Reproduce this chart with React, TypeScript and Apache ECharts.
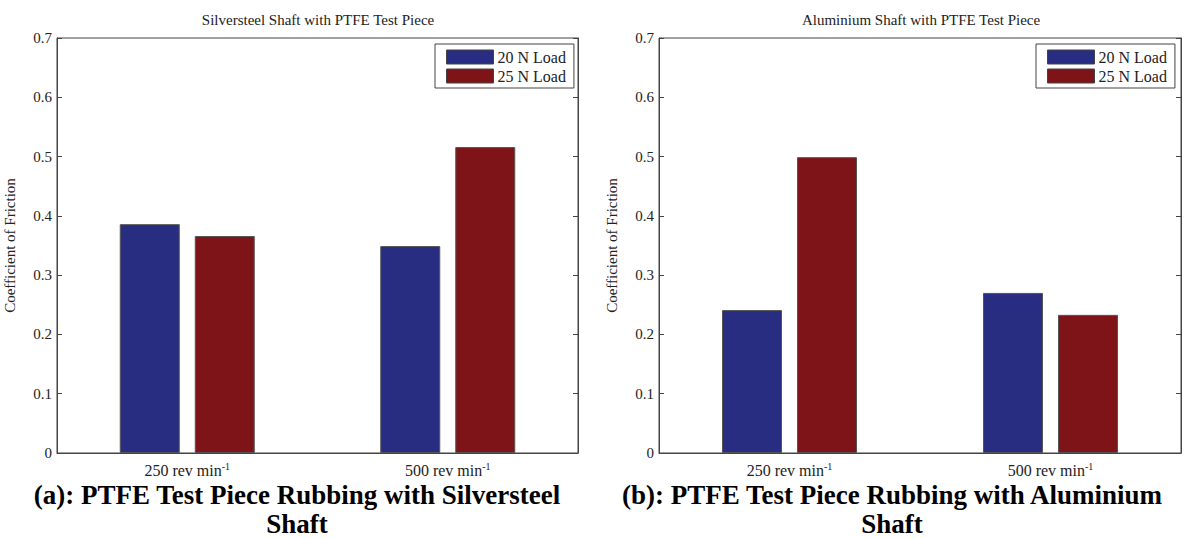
import React, { useEffect, useRef } from "react";
import * as echarts from "echarts";

const categories = ["250 rev min", "500 rev min"];
const seriesNames = ["20 N Load", "25 N Load"];
const silver20 = [0.386, 0.349];
const silver25 = [0.366, 0.516];
const alu20 = [0.241, 0.270];
const alu25 = [0.499, 0.233];
const chartTitles = ["Silversteel Shaft with PTFE Test Piece", "Aluminium Shaft with PTFE Test Piece"];
const captions = [
  ["(a): PTFE Test Piece Rubbing with Silversteel", "Shaft"],
  ["(b): PTFE Test Piece Rubbing with Aluminium", "Shaft"],
];
const yAxisName = "Coefficient of Friction";

const BLUE = "#282d82";
const RED = "#7e1418";
const FONT = "Liberation Serif";

export default function App() {
  const ref = useRef<HTMLDivElement>(null);
  useEffect(() => {
    const chart = echarts.init(ref.current!, null, { renderer: "svg" });
    const grids = [
      { left: 57, top: 38, width: 521, height: 415 },
      { left: 659, top: 38, width: 522, height: 415 },
    ];
    const xAxes: any[] = [];
    const yAxes: any[] = [];
    grids.forEach((g, i) => {
      xAxes.push({
        type: "category",
        gridIndex: i,
        data: categories,
        axisLine: { lineStyle: { color: "#444", width: 1 } },
        axisTick: { show: false },
        axisLabel: {
          margin: 8,
          formatter: (v: string) => `{b|${v}}{s|-1}`,
          rich: {
            b: { fontFamily: FONT, fontSize: 16, color: "#222" },
            s: { fontFamily: FONT, fontSize: 10, color: "#222", padding: [0, 0, 9, 0] },
          },
        },
      });
      yAxes.push({
        type: "value",
        gridIndex: i,
        min: 0,
        max: 0.7,
        interval: 0.1,
        name: yAxisName,
        nameLocation: "middle",
        nameGap: 40,
        nameTextStyle: { fontFamily: FONT, fontSize: 15, color: "#222" },
        axisLine: { show: true, lineStyle: { color: "#444", width: 1 } },
        axisTick: { show: true, inside: true, length: 5, lineStyle: { color: "#444" } },
        splitLine: { show: false },
        axisLabel: {
          margin: 5,
          fontFamily: FONT,
          fontSize: 15,
          color: "#222",
          formatter: (v: number) => (v === 0 ? "0" : v.toFixed(1)),
        },
      });
      yAxes.push({
        type: "value",
        gridIndex: i,
        position: "right",
        min: 0,
        max: 0.7,
        interval: 0.1,
        axisLine: { show: true, lineStyle: { color: "#444", width: 1 } },
        axisTick: { show: true, inside: true, length: 5, lineStyle: { color: "#444" } },
        splitLine: { show: false },
        axisLabel: { show: false },
      });
    });

    const mkSeries = (name: string, data: number[], color: string, gi: number) => ({
      type: "bar",
      name,
      data,
      xAxisIndex: gi,
      yAxisIndex: gi * 2,
      barWidth: 60,
      barGap: "25%",
      itemStyle: { color, borderColor: "#555", borderWidth: 1 },
    });

    const legendCommon = {
      orient: "vertical",
      itemWidth: 47,
      itemHeight: 14,
      itemGap: 3,
      padding: [5, 8, 4, 11],
      borderColor: "#444",
      borderWidth: 1,
      backgroundColor: "#fff",
      icon: "rect",
      selectedMode: false,
      textStyle: { fontFamily: FONT, fontSize: 16, color: "#222", lineHeight: 16, padding: [0, 0, 0, -1] },
      itemStyle: { borderColor: "#444", borderWidth: 1 },
      data: seriesNames,
    };

    const graphics: any[] = [];
    const titleX = [318, 921];
    const capX = [297, 892];
    chartTitles.forEach((t, i) => {
      graphics.push({
        type: "text",
        x: titleX[i],
        y: 20,
        style: { text: t, fontFamily: FONT, fontSize: 15, fill: "#222", align: "center", verticalAlign: "middle" },
      });
      captions[i].forEach((c, j) => {
        graphics.push({
          type: "text",
          x: capX[i],
          y: 495 + j * 29,
          style: { text: c, fontFamily: FONT, fontSize: 27, fontWeight: "bold", fill: "#000", align: "center", verticalAlign: "middle" },
        });
      });
    });

    chart.setOption({
      animation: false,
      backgroundColor: "#fff",
      grid: grids.map((g) => ({ ...g, show: true, borderColor: "#444", borderWidth: 1, backgroundColor: "transparent" })),
      xAxis: xAxes,
      yAxis: yAxes,
      legend: [
        { ...legendCommon, left: 435, top: 44 },
        { ...legendCommon, left: 1036, top: 44 },
      ],
      series: [
        mkSeries(seriesNames[0], silver20, BLUE, 0),
        mkSeries(seriesNames[1], silver25, RED, 0),
        mkSeries(seriesNames[0], alu20, BLUE, 1),
        mkSeries(seriesNames[1], alu25, RED, 1),
      ],
      graphic: graphics,
    });
    return () => chart.dispose();
  }, []);
  return <div ref={ref} style={{ position: "fixed", left: 0, top: 0, width: 1184, height: 539 }} />;
}
